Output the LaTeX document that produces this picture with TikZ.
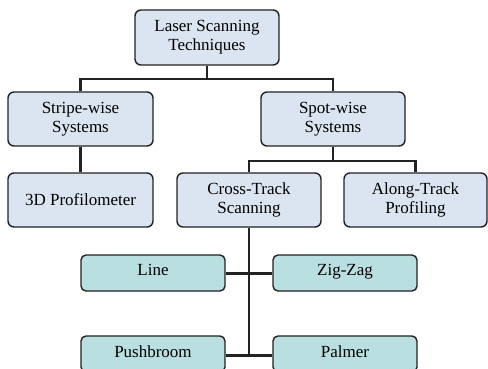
\documentclass[tikz,border=0pt]{standalone}
\usepackage{fontspec}
\setmainfont{Liberation Serif}
\definecolor{upbox}{HTML}{DAE5F1}
\definecolor{lowbox}{HTML}{B9DFE1}
\definecolor{edge}{HTML}{222222}
\begin{document}
\begin{tikzpicture}[x=1pt,y=-1pt,
  upper/.style={draw=edge, line width=1.4pt, fill=upbox, rounded corners=6pt,
    minimum width=144pt, minimum height=54pt, inner sep=0pt, align=center,
    font=\fontsize{17}{19}\selectfont},
  lower/.style={draw=edge, line width=1.4pt, fill=lowbox, rounded corners=5pt,
    minimum width=144pt, minimum height=36pt, inner sep=0pt, align=center,
    font=\fontsize{17}{19}\selectfont},
  conn/.style={draw=edge, line width=2.2pt}]
\useasboundingbox (0,0) rectangle (488,368);
\clip (0,0) rectangle (488,368);
\node[upper, minimum height=55pt] (top) at (207,37.5) {Laser Scanning\\Techniques};
\node[upper, minimum width=145pt] (stripe) at (80.5,119) {Stripe-wise\\Systems};
\node[upper] (spot) at (333,119) {Spot-wise\\Systems};
\node[upper, minimum width=145pt] (prof) at (80.5,200) {3D Profilometer};
\node[upper] (cross) at (249,200) {Cross-Track\\Scanning};
\node[upper, minimum width=143pt] (along) at (415.5,200) {Along-Track\\Profiling};
\node[lower] (line) at (153,273) {\raisebox{6pt}{Line}};
\node[lower] (zig) at (345,273) {\raisebox{6pt}{Zig-Zag}};
\node[lower] (push) at (153,354) {\raisebox{5pt}{Pushbroom}};
\node[lower] (palm) at (345,354) {\raisebox{5pt}{Palmer}};
% connectors
\coordinate (j1) at (207,79);
\coordinate (j2) at (333,161);
\coordinate (j3) at (249,273.5);
\coordinate (j4) at (249,355.5);
\draw[conn] (top.south) -- (j1);
\draw[conn] (stripe.north) |- (j1) -| (spot.north);
\draw[conn] (stripe.south) -- (prof.north);
\draw[conn] (spot.south) -- (j2);
\draw[conn] (cross.north) |- (j2) -| (along.north);
\draw[conn] (cross.south) -- (j4);
\draw[conn] (line.east |- j3) -- (zig.west |- j3);
\draw[conn] (push.east |- j4) -- (palm.west |- j4);
\end{tikzpicture}
\end{document}
